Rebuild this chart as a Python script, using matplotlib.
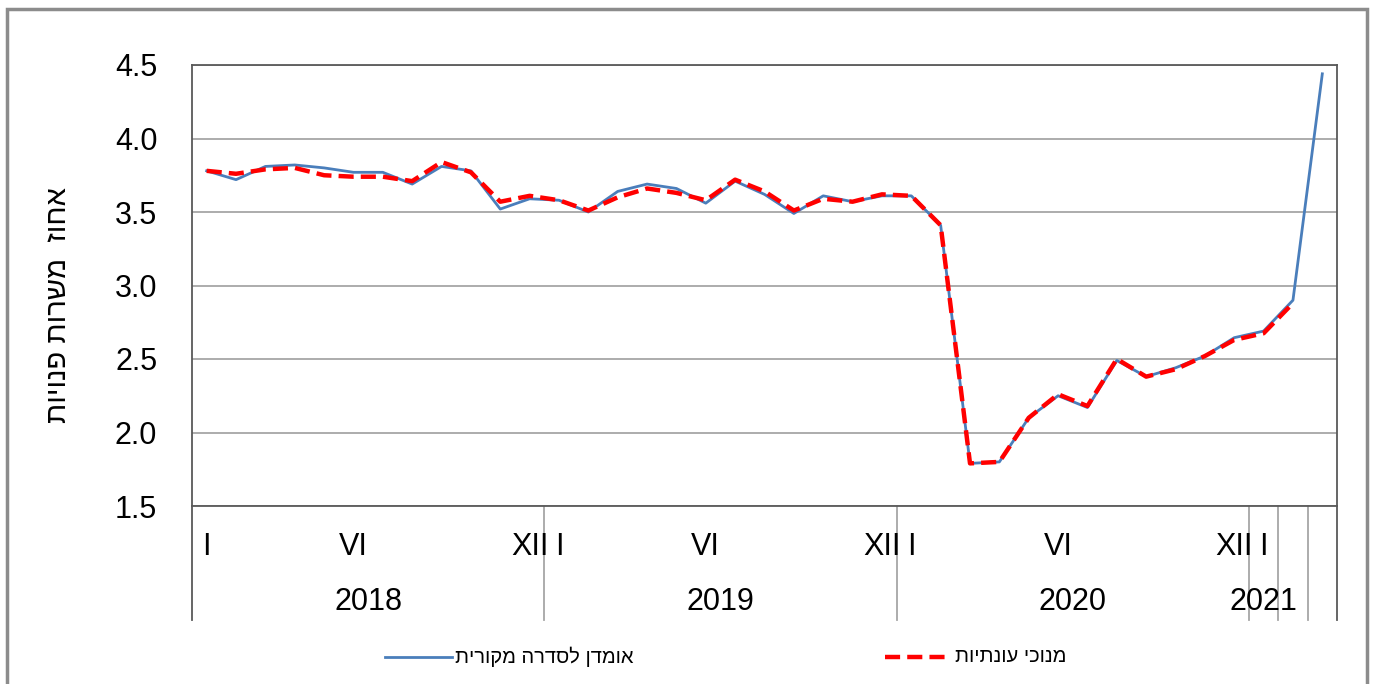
import matplotlib
matplotlib.use('Agg')
import matplotlib.pyplot as plt
import matplotlib.transforms as mtransforms
from matplotlib.patches import Rectangle
from matplotlib.lines import Line2D
import numpy as np

plt.rcParams['font.family'] = ['Liberation Sans', 'DejaVu Sans']

# monthly data, Jan 2018 - Mar 2021
original = [3.78, 3.72, 3.81, 3.82, 3.80, 3.77, 3.77, 3.69, 3.81, 3.78, 3.52, 3.59,
            3.58, 3.50, 3.64, 3.69, 3.66, 3.56, 3.71, 3.62, 3.49, 3.61, 3.57, 3.61,
            3.61, 3.41, 1.79, 1.80, 2.10, 2.25, 2.17, 2.49, 2.38, 2.44, 2.52, 2.645,
            2.69, 2.90, 4.44]
# seasonally adjusted ends Feb 2021
adjusted = [3.78, 3.76, 3.79, 3.80, 3.75, 3.74, 3.74, 3.71, 3.84, 3.77, 3.57, 3.61,
            3.58, 3.51, 3.60, 3.66, 3.63, 3.58, 3.72, 3.64, 3.51, 3.59, 3.57, 3.62,
            3.61, 3.41, 1.79, 1.80, 2.10, 2.26, 2.18, 2.50, 2.38, 2.43, 2.52, 2.63,
            2.675, 2.88]

month_labels = (['I', '', '', '', '', 'VI', '', '', '', '', '', 'XII'] * 3) + ['I', '', '']
year_labels = ['2018', '2019', '2020', '2021', '', '']
year_sizes = [12, 12, 12, 1, 1, 1]

ylabel = 'אחוז  משרות פנויות'
legend_labels = ['אומדן לסדרה מקורית', 'מנוכי עונתיות']

def rtl(s):
    # matplotlib has no bidi, so lay Hebrew out in visual order
    return s[::-1]

W, H = 1375, 684
fig = plt.figure(figsize=(W / 100, H / 100), dpi=100)
ax = fig.add_axes([192 / W, 1 - 506 / H, (1337 - 192) / W, (506 - 65) / H])

x = np.arange(len(original))
ax.plot(x, original, color='#4a7ebb', lw=2.0, zorder=3)
ax.plot(x[:len(adjusted)], adjusted, color='#ff0000', lw=3.2, dashes=(3.4, 1.6), zorder=4)

ax.set_xlim(-0.5, len(original) - 0.5)
ax.set_ylim(1.5, 4.5)
ax.set_yticks(np.arange(1.5, 4.51, 0.5))
ax.set_yticklabels(['%.1f' % v for v in np.arange(1.5, 4.51, 0.5)])
ax.tick_params(axis='y', length=0, pad=25, labelsize=22)
ax.set_xticks([])
ax.yaxis.grid(True, color='#a6a6a6', lw=1.3)
ax.set_axisbelow(True)
for s in ax.spines.values():
    s.set_color('#595959')
    s.set_linewidth(1.3)

# two-level category axis drawn by hand
trans = mtransforms.blended_transform_factory(ax.transData, ax.transAxes)
low = -(620 - 506) / (506 - 65)
for i, lab in enumerate(month_labels):
    if lab:
        ax.text(i, -41 / 441, lab, transform=trans, ha='center', va='center', fontsize=22)

edges = [-0.5]
for n in year_sizes:
    edges.append(edges[-1] + n)
for k, lab in enumerate(year_labels):
    ax.text((edges[k] + edges[k + 1]) / 2, -96 / 441, lab, transform=trans,
            ha='center', va='center', fontsize=22)
for k, e in enumerate(edges):
    col = '#595959' if k in (0, len(edges) - 1) else '#a6a6a6'
    ax.add_line(Line2D([e, e], [0, low], transform=trans, color=col, lw=1.3, clip_on=False))

fig.text(58 / W, 1 - 305 / H, rtl(ylabel), rotation=90, ha='center', va='center', fontsize=21)

# legend
ly = 1 - 657 / H
fig.add_artist(Line2D([385 / W, 452 / W], [ly, ly], color='#4a7ebb', lw=2.0))
fig.text(455 / W, ly, rtl(legend_labels[0]), ha='left', va='center', fontsize=14.5)
fig.add_artist(Line2D([885 / W, 950 / W], [ly, ly], color='#ff0000', lw=3.2, dashes=(3.4, 1.6)))
fig.text(955 / W, ly, rtl(legend_labels[1]), ha='left', va='center', fontsize=14.5)

# outer chart frame
fig.add_artist(Rectangle((7 / W, -0.05), (1367 - 7) / W, 1.05 - 9 / H, transform=fig.transFigure,
                         fill=False, edgecolor='#8c8c8c', lw=2.5))

fig.savefig('out.png', dpi=100)
